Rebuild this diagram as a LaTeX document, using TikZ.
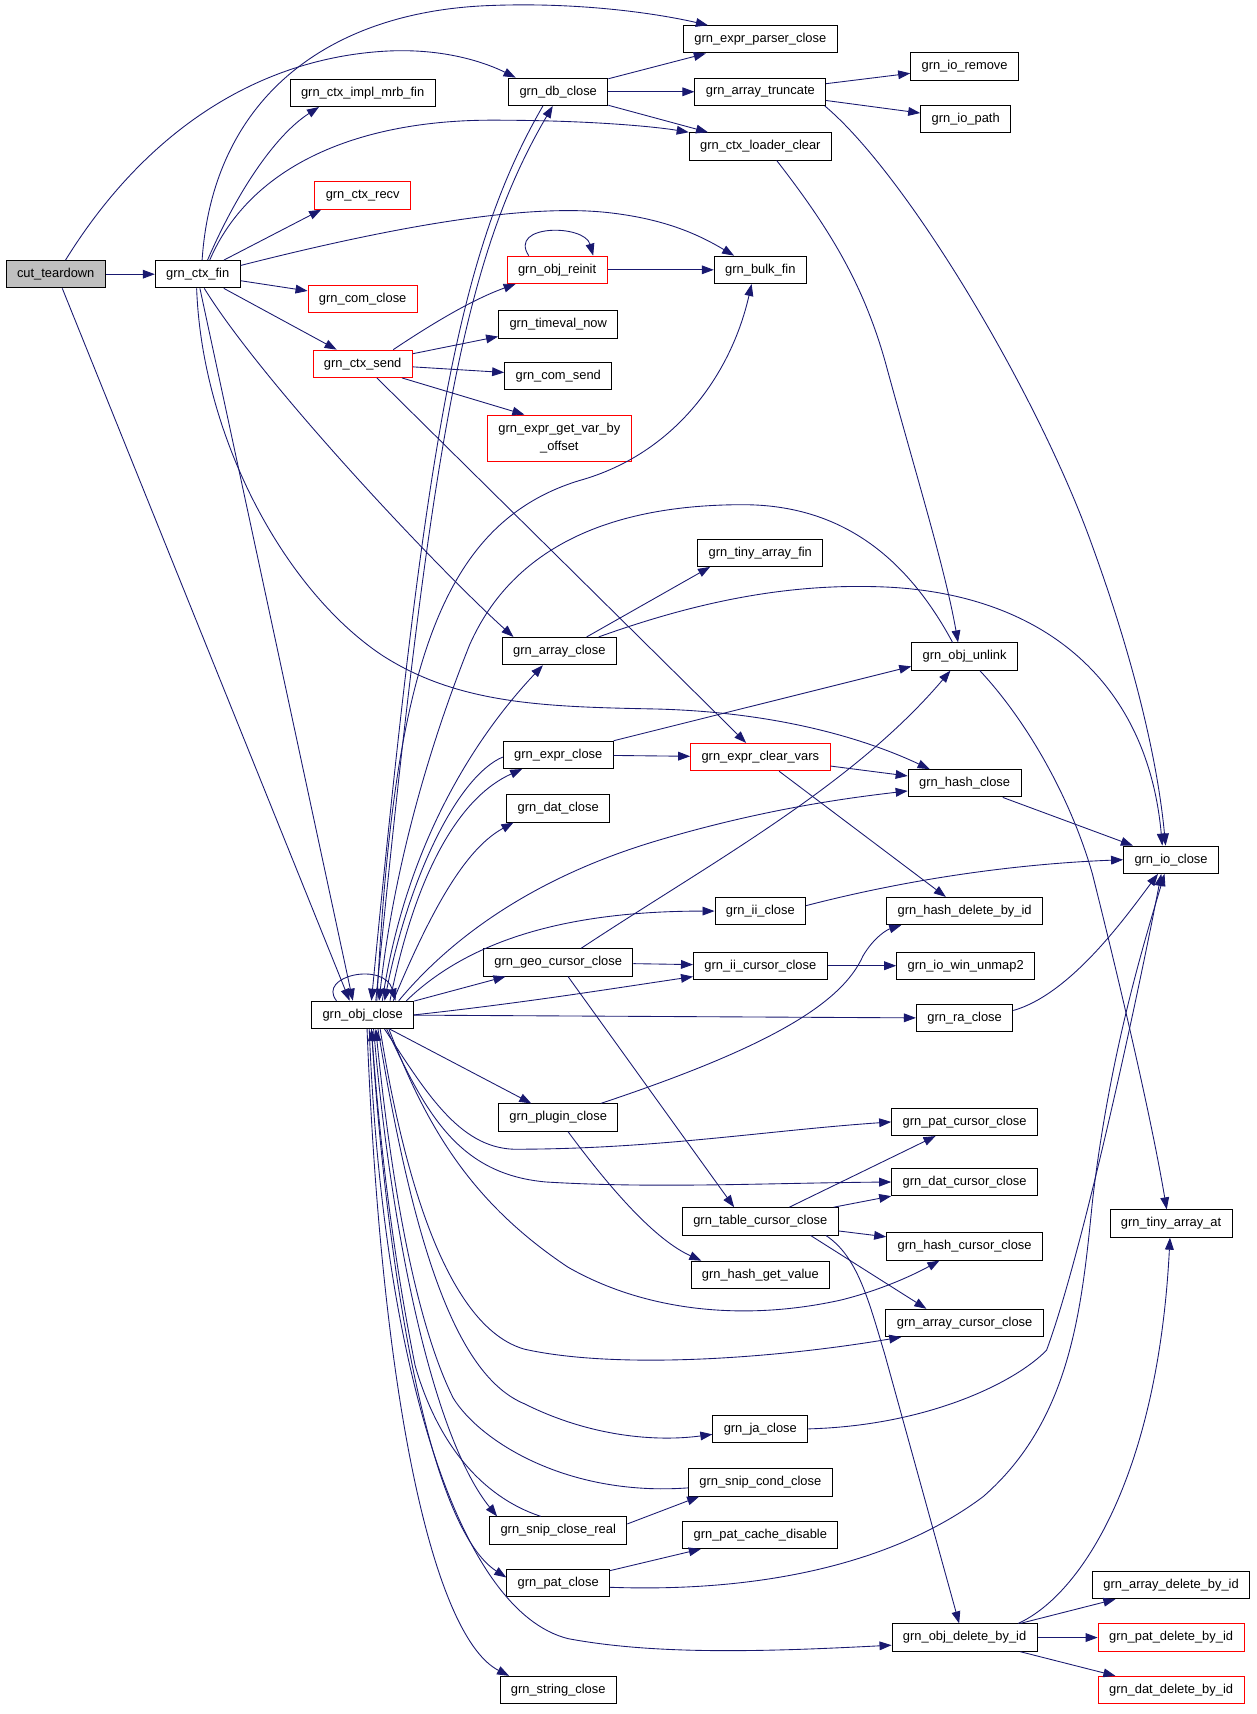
\documentclass[tikz,border=0pt]{standalone}
\usepackage{fontspec}
\setmainfont{Liberation Sans}
\usetikzlibrary{arrows.meta}
\definecolor{edgeblue}{RGB}{25,25,112}
\definecolor{rootgray}{RGB}{191,191,191}

\begin{document}
\begin{tikzpicture}[x=1pt,y=-1pt,
    fn/.style={draw=black, line width=0.9pt, fill=white, inner xsep=10pt, inner ysep=2pt,
        minimum height=25pt, font=\fontsize{11.8}{16}\selectfont},
    fnred/.style={fn, draw=red},
    fnroot/.style={fn, fill=rootgray},
    call/.style={draw=edgeblue, line width=0.8pt, -{Triangle[length=11pt,width=8pt]}}]

    % Fix the page size
    \useasboundingbox (0,0) rectangle (1150,1569);

    % Left columns
    \node[fnroot] (ct) at (51,251) {cut\_teardown};
    \node[fn] (cfin) at (181,251) {grn\_ctx\_fin};
    \node[fn] (mrb) at (332,85) {grn\_ctx\_impl\_mrb\_fin};
    \node[fnred] (recv) at (332,179) {grn\_ctx\_recv};
    \node[fnred] (ccl) at (332,274) {grn\_com\_close};
    \node[fnred] (send) at (332,333) {grn\_ctx\_send};
    \node[fn] (objc) at (332,929) {grn\_obj\_close};

    % Middle column
    \node[fn] (dbc) at (511,84) {grn\_db\_close};
    \node[fnred] (reinit) at (510,247) {grn\_obj\_reinit};
    \node[fn] (tvn) at (511,297) {grn\_timeval\_now};
    \node[fn] (csend) at (511,344) {grn\_com\_send};
    \node[fnred, align=center, minimum height=42pt] (gvar) at (512,401) {grn\_expr\_get\_var\_by\\\_offset};
    \node[fn] (arrc) at (512,596) {grn\_array\_close};
    \node[fn] (exprc) at (511,691) {grn\_expr\_close};
    \node[fn] (datc) at (511,740) {grn\_dat\_close};
    \node[fn] (geo) at (511,881) {grn\_geo\_cursor\_close};
    \node[fn] (plug) at (511,1023) {grn\_plugin\_close};
    \node[fn] (snreal) at (511,1401) {grn\_snip\_close\_real};
    \node[fn] (patc) at (511,1449) {grn\_pat\_close};
    \node[fn] (strc) at (511,1547) {grn\_string\_close};

    \node[fn] (epc) at (696,36) {grn\_expr\_parser\_close};
    \node[fn] (atr) at (696,84) {grn\_array\_truncate};
    \node[fn] (ldc) at (696,134) {grn\_ctx\_loader\_clear};
    \node[fn] (bulk) at (696,247) {grn\_bulk\_fin};
    \node[fn] (tafin) at (696,506) {grn\_tiny\_array\_fin};
    \node[fnred] (ecv) at (696,693) {grn\_expr\_clear\_vars};
    \node[fn] (iic) at (696,834) {grn\_ii\_close};
    \node[fn] (iicur) at (696,884) {grn\_ii\_cursor\_close};
    \node[fn] (tcur) at (696,1118) {grn\_table\_cursor\_close};
    \node[fn] (hgv) at (696,1167) {grn\_hash\_get\_value};
    \node[fn] (jac) at (696,1308) {grn\_ja\_close};
    \node[fn] (sncond) at (696,1357) {grn\_snip\_cond\_close};
    \node[fn] (pcd) at (696,1405) {grn\_pat\_cache\_disable};

    % Right columns
    \node[fn] (iorm) at (883,61) {grn\_io\_remove};
    \node[fn] (iop) at (884,109) {grn\_io\_path};
    \node[fn] (unlink) at (883,601) {grn\_obj\_unlink};
    \node[fn] (hashc) at (883,717) {grn\_hash\_close};
    \node[fn] (hdel) at (883,834) {grn\_hash\_delete\_by\_id};
    \node[fn] (unmap) at (884,884) {grn\_io\_win\_unmap2};
    \node[fn] (rac) at (883,932) {grn\_ra\_close};
    \node[fn] (patcur) at (883,1027) {grn\_pat\_cursor\_close};
    \node[fn] (datcur) at (883,1082) {grn\_dat\_cursor\_close};
    \node[fn] (hashcur) at (883,1141) {grn\_hash\_cursor\_close};
    \node[fn] (arrcur) at (883,1211) {grn\_array\_cursor\_close};
    \node[fn] (odel) at (883,1499) {grn\_obj\_delete\_by\_id};

    \node[fn] (ioc) at (1072,787) {grn\_io\_close};
    \node[fn] (taat) at (1072,1120) {grn\_tiny\_array\_at};
    \node[fn] (adel) at (1072,1451) {grn\_array\_delete\_by\_id};
    \node[fnred] (pdel) at (1072,1499) {grn\_pat\_delete\_by\_id};
    \node[fnred] (ddel) at (1072,1547) {grn\_dat\_delete\_by\_id};

    % Straight calls, centre to centre
    \foreach \a/\b in {ct/cfin, cfin/ccl, cfin/send, send/tvn, send/csend, reinit/bulk,
        dbc/epc, dbc/atr, dbc/ldc, atr/iorm, atr/iop, exprc/ecv, ecv/hashc, ecv/hdel,
        hashc/ioc, objc/geo, geo/iicur, iicur/unmap, objc/rac, objc/plug, tcur/patcur,
        tcur/datcur, tcur/hashcur, patc/pcd, odel/adel, odel/pdel, odel/ddel} {
        \draw[call] (\a) -- (\b);
    }

    % Calls from cut_teardown and grn_ctx_fin
    \draw[call] ([xshift=9pt]ct.north) .. controls (130,125) and (230,55) .. (350,47)
        .. controls (410,43) and (450,60) .. ([xshift=-39pt]dbc.north);
    \draw[call] ([xshift=6pt]ct.south) -- ([xshift=-12pt]objc.north);
    \draw[call] ([xshift=4pt]cfin.north) .. controls (195,90) and (300,10) .. (450,5)
        .. controls (530,2) and (600,12) .. ([xshift=-48pt]epc.north);
    \draw[call] ([xshift=9pt]cfin.north) .. controls (215,180) and (250,125) .. ([xshift=-40pt]mrb.south);
    \draw[call] ([xshift=11pt]cfin.north) .. controls (230,150) and (330,110) .. (450,110)
        .. controls (540,110) and (600,116) .. (ldc.north west);
    \draw[call] ([xshift=24pt]cfin.north) -- ([xshift=-38pt]recv.south);
    \draw[call] ([yshift=8pt]cfin.east) .. controls (350,210) and (480,185) .. (560,195)
        .. controls (610,201) and (640,215) .. ([xshift=-24pt]bulk.north);
    \draw[call] ([xshift=6pt]cfin.south) .. controls (240,350) and (400,520) .. ([xshift=-42pt]arrc.north);
    \draw[call] ([xshift=-1pt]cfin.south) .. controls (185,400) and (260,540) .. (350,600)
        .. controls (420,645) and (500,647) .. (600,649)
        .. controls (720,652) and (800,680) .. ([xshift=-32pt]hashc.north);
    \draw[call] ([xshift=2pt]cfin.south) -- ([xshift=-9pt]objc.north);

    % Calls from grn_ctx_send, grn_obj_reinit and grn_db_close
    \draw[call] ([xshift=28pt]send.north) .. controls (390,300) and (430,275) .. ([xshift=-38pt]reinit.south);
    \draw[call] ([xshift=36pt]send.south) -- ([xshift=-32pt]gvar.north);
    \draw[call] ([xshift=13pt]send.south) -- ([xshift=-13pt]ecv.north);
    \draw[call] ([xshift=-26pt]reinit.north) .. controls (465,205) and (535,205) .. ([xshift=33pt]reinit.north);
    \draw[call] ([xshift=-14pt]dbc.south) .. controls (420,230) and (390,400) .. ([xshift=8pt]objc.north);
    \draw[call] ([xshift=12pt]objc.north) .. controls (395,400) and (425,235) .. ([xshift=-5pt]dbc.south);
    \draw[call] ([xshift=59pt]atr.south) .. controls (830,160) and (950,360) .. (1000,500)
        .. controls (1040,610) and (1060,700) .. ([xshift=-5pt]ioc.north);
    \draw[call] ([xshift=15pt]ldc.south) .. controls (760,210) and (790,260) .. (810,330)
        .. controls (840,440) and (865,520) .. ([xshift=-6pt]unlink.north);

    % Calls above grn_obj_close
    \draw[call] ([xshift=-24pt]objc.north) .. controls (290,893) and (352,880) .. ([xshift=30pt]objc.north);
    \draw[call] ([xshift=13pt]objc.north) .. controls (360,620) and (400,480) .. (530,440)
        .. controls (620,415) and (670,340) .. ([xshift=-8pt]bulk.south);
    \draw[call] ([xshift=18pt]objc.north) .. controls (370,780) and (430,680) .. ([xshift=-15pt]arrc.south);
    \draw[call] ([xshift=-11pt]unlink.north) .. controls (830,510) and (770,462) .. (680,462)
        .. controls (560,462) and (470,500) .. (430,590)
        .. controls (390,690) and (360,800) .. ([xshift=15pt]objc.north);
    \draw[call] ([xshift=25pt]arrc.north) -- ([xshift=-46pt]tafin.south);
    \draw[call] ([xshift=36pt]arrc.north) .. controls (640,550) and (720,535) .. (800,537)
        .. controls (950,540) and (1050,620) .. ([xshift=-8pt]ioc.north);
    \draw[call] (exprc.north east) -- ([yshift=-9pt]unlink.west);
    \draw[call] ([yshift=-2pt]exprc.west) .. controls (420,710) and (375,800) .. ([xshift=20pt]objc.north);
    \draw[call] ([xshift=25pt]objc.north) .. controls (380,800) and (420,730) .. ([xshift=-33pt]exprc.south);
    \draw[call] ([xshift=28pt]objc.north) .. controls (400,820) and (430,775) .. ([xshift=-41pt]datc.south);
    \draw[call] ([xshift=33pt]objc.north) .. controls (420,850) and (500,800) .. (600,770)
        .. controls (700,740) and (780,730) .. ([yshift=-7pt]hashc.west);
    \draw[call] ([xshift=40pt]objc.north) .. controls (430,860) and (520,834) .. (iic.west);
    \draw[call] ([yshift=5pt]iic.east) .. controls (850,800) and (950,790) .. (ioc.west);
    \draw[call] ([xshift=21pt]geo.north) .. controls (650,790) and (780,720) .. ([xshift=-13pt]unlink.south);
    \draw[call] (objc.east) .. controls (480,918) and (560,905) .. ([yshift=-10pt]iicur.west);
    \draw[call] ([xshift=9pt]geo.south) -- ([xshift=-24pt]tcur.north);
    \draw[call] ([yshift=7pt]rac.east) .. controls (980,910) and (1030,840) .. ([xshift=-12pt]ioc.south);
    \draw[call] ([xshift=14pt]unlink.south) .. controls (940,660) and (980,730) .. (1000,800)
        .. controls (1030,920) and (1055,1030) .. ([xshift=-4pt]taat.north);

    % Calls below grn_obj_close
    \draw[call] ([xshift=39pt]plug.north) .. controls (700,960) and (770,920) .. (790,875)
        .. controls (800,858) and (812,851) .. ([xshift=-58pt]hdel.south);
    \draw[call] ([xshift=9pt]plug.south) .. controls (560,1090) and (600,1135) .. ([xshift=-54pt]hgv.north);
    \draw[call] ([xshift=20pt]objc.south) .. controls (390,1000) and (420,1050) .. (470,1052)
        .. controls (600,1052) and (700,1035) .. (patcur.west);
    \draw[call] ([xshift=22pt]objc.south) .. controls (390,1020) and (420,1075) .. (500,1082)
        .. controls (600,1088) and (700,1083) .. (datcur.west);
    \draw[call] ([xshift=46pt]tcur.south) -- ([xshift=-35pt]arrcur.north);
    \draw[call] ([xshift=60pt]tcur.south) .. controls (785,1150) and (795,1190) .. (810,1240)
        -- ([xshift=-5pt]odel.north);
    \draw[call] ([xshift=24pt]objc.south) .. controls (390,1030) and (430,1100) .. (520,1160)
        .. controls (590,1200) and (680,1210) .. (770,1190)
        .. controls (810,1180) and (840,1165) .. ([xshift=-23pt]hashcur.south);
    \draw[call] ([xshift=16pt]objc.south) .. controls (370,1080) and (410,1215) .. (480,1235)
        .. controls (560,1253) and (700,1245) .. ([xshift=-58pt]arrcur.south);
    \draw[call] ([xshift=14pt]objc.south) .. controls (380,1150) and (420,1260) .. (480,1285)
        .. controls (540,1315) and (600,1320) .. ([yshift=-5pt]jac.west);
    \draw[call] (jac.east) .. controls (850,1305) and (930,1265) .. (958,1236)
        .. controls (990,1150) and (1040,920) .. ([xshift=-9pt]ioc.south);
    \draw[call] ([yshift=-5pt]sncond.west) .. controls (520,1370) and (440,1320) .. (415,1280)
        .. controls (375,1200) and (355,1050) .. ([xshift=12pt]objc.south);
    \draw[call] ([yshift=6pt]snreal.east) -- ([xshift=-56pt]sncond.south);
    \draw[call] ([xshift=10pt]objc.south) .. controls (360,1150) and (400,1320) .. ([xshift=-56pt]snreal.north);
    \draw[call] ([xshift=-16pt]snreal.north) .. controls (440,1370) and (400,1320) .. (380,1250)
        .. controls (360,1150) and (348,1050) .. ([xshift=8pt]objc.south);
    \draw[call] ([xshift=8pt]objc.south) .. controls (355,1180) and (395,1400) .. ([yshift=5pt]patc.west);
    \draw[call] ([yshift=-4pt]patc.east) .. controls (700,1458) and (820,1430) .. (900,1370)
        .. controls (980,1300) and (990,1200) .. (1000,1100)
        .. controls (1015,970) and (1045,870) .. ([xshift=-6pt]ioc.south);
    \draw[call] ([xshift=6pt]objc.south) .. controls (350,1250) and (420,1475) .. (520,1500)
        .. controls (600,1515) and (700,1512) .. ([yshift=-7pt]odel.west);
    \draw[call] ([xshift=4pt]objc.south) .. controls (350,1300) and (400,1500) .. ([xshift=-45pt]strc.north);
    \draw[call] ([xshift=49pt]odel.north) .. controls (990,1460) and (1060,1350) .. ([xshift=-1pt]taat.south);

\end{tikzpicture}
\end{document}
